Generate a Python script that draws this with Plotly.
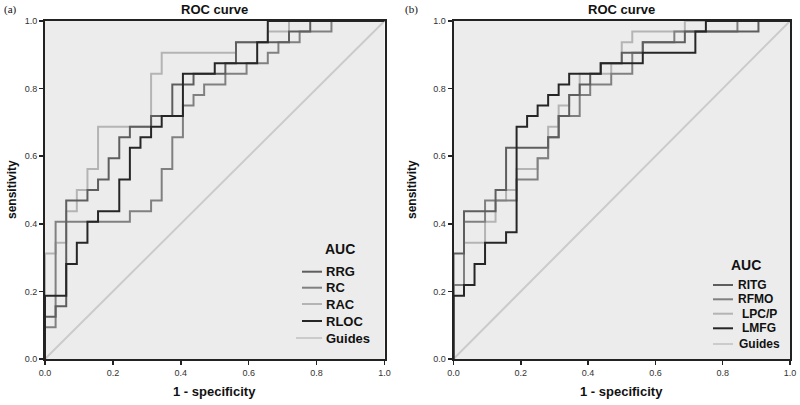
import plotly.graph_objects as go

# ROC step curves, counts out of 32 negatives (false positives) and 32 positives (true positives)
N_NEG = 32
N_POS = 32

# Panel (a)
A_RRG_FP = [0, 0, 1, 2, 4, 5, 6, 7, 8, 10, 12, 14, 17, 18, 23, 25, 32]
A_RRG_TP = [0, 4, 5, 15, 16, 17, 19, 21, 22, 23, 26, 27, 28, 30, 31, 32, 32]
A_RC_FP = [0, 0, 1, 8, 10, 11, 12, 13, 14, 15, 17, 19, 21, 22, 24, 27, 32]
A_RC_TP = [0, 3, 13, 14, 15, 18, 21, 24, 25, 26, 27, 28, 29, 30, 31, 32, 32]
A_RAC_FP = [0, 0, 1, 2, 3, 4, 5, 10, 11, 18, 21, 23, 32]
A_RAC_TP = [0, 10, 11, 14, 16, 18, 22, 27, 29, 30, 31, 32, 32]
A_RLOC_FP = [0, 0, 2, 3, 4, 5, 7, 8, 9, 10, 11, 13, 16, 20, 21, 32]
A_RLOC_TP = [0, 6, 9, 11, 13, 14, 17, 20, 21, 22, 23, 27, 28, 30, 32, 32]

# Panel (b)
B_RITG_FP = [0, 0, 1, 4, 5, 9, 10, 11, 12, 13, 14, 16, 18, 22, 29, 32]
B_RITG_TP = [0, 10, 14, 16, 20, 21, 23, 25, 26, 27, 28, 29, 30, 31, 32, 32]
B_RFMO_FP = [0, 0, 1, 3, 6, 8, 9, 10, 12, 13, 15, 17, 18, 21, 27, 32]
B_RFMO_TP = [0, 7, 13, 15, 17, 19, 21, 23, 25, 26, 27, 29, 30, 31, 32, 32]
B_LPCP_FP = [0, 0, 1, 3, 4, 5, 6, 8, 9, 10, 11, 12, 15, 16, 17, 22, 32]
B_LPCP_TP = [0, 7, 11, 13, 15, 16, 18, 19, 22, 24, 25, 27, 28, 30, 31, 32, 32]
B_LMFG_FP = [0, 0, 1, 2, 3, 5, 6, 7, 8, 9, 10, 11, 14, 18, 23, 24, 32]
B_LMFG_TP = [0, 6, 7, 9, 11, 12, 22, 23, 24, 25, 26, 27, 28, 29, 31, 32, 32]

GUIDE = [0.0, 1.0]
TICKS = [0.0, 0.2, 0.4, 0.6, 0.8, 1.0]

A_LEGEND_NAMES = ["RRG", "RC", "RAC", "RLOC", "Guides"]
B_LEGEND_NAMES = ["RITG", "RFMO", "LPC/P", "LMFG", "Guides"]

C_DARK = "#262626"
C_MD = "#5e5e5e"
C_MED = "#808080"
C_LIGHT = "#b4b4b4"
C_GUIDE = "#cbcbcb"
FONT = "Liberation Sans, Arial, sans-serif"

W, H = 800, 405
ML, MT = 45, 21
MR = W - 790
MB = H - 359
PW, PH = W - ML - MR, H - MT - MB


def px_x(p):
    return (p - ML) / PW


def px_y(p):
    return (H - MB - p) / PH


fig = go.Figure()


def add_curve(fp, tp, name, color, xa, ya):
    fig.add_trace(go.Scatter(
        x=[v / N_NEG for v in fp], y=[v / N_POS for v in tp],
        mode="lines", name=name, line=dict(color=color, width=2, shape="hv"),
        xaxis=xa, yaxis=ya, showlegend=False, hoverinfo="skip"))


def add_guide(xa, ya):
    fig.add_trace(go.Scatter(
        x=GUIDE, y=GUIDE, mode="lines", name="Guides",
        line=dict(color=C_GUIDE, width=2), xaxis=xa, yaxis=ya,
        showlegend=False, hoverinfo="skip"))


add_guide("x", "y")
add_curve(A_RAC_FP, A_RAC_TP, "RAC", C_LIGHT, "x", "y")
add_curve(A_RC_FP, A_RC_TP, "RC", C_MED, "x", "y")
add_curve(A_RRG_FP, A_RRG_TP, "RRG", C_MD, "x", "y")
add_curve(A_RLOC_FP, A_RLOC_TP, "RLOC", C_DARK, "x", "y")

add_guide("x2", "y2")
add_curve(B_LPCP_FP, B_LPCP_TP, "LPC/P", C_LIGHT, "x2", "y2")
add_curve(B_RFMO_FP, B_RFMO_TP, "RFMO", C_MED, "x2", "y2")
add_curve(B_RITG_FP, B_RITG_TP, "RITG", C_MD, "x2", "y2")
add_curve(B_LMFG_FP, B_LMFG_TP, "LMFG", C_DARK, "x2", "y2")

axis_common = dict(
    range=[0, 1], tickvals=TICKS, tickformat=".1f", ticks="outside",
    ticklen=4, tickwidth=1.5, tickcolor="#222", showline=True,
    linecolor="#222", linewidth=2, mirror=True, showgrid=False,
    zeroline=False, fixedrange=True, automargin=False,
    tickfont=dict(size=9, color="#333", family=FONT),
)

fig.update_layout(
    width=W, height=H,
    margin=dict(l=ML, r=MR, t=MT, b=MB),
    paper_bgcolor="white", plot_bgcolor="#ececec",
    showlegend=False,
    xaxis=dict(domain=[0, px_x(384.5)], anchor="y", **axis_common),
    yaxis=dict(domain=[0, 1], anchor="x", **axis_common),
    xaxis2=dict(domain=[px_x(453.5), 1], anchor="y2", **axis_common),
    yaxis2=dict(domain=[0, 1], anchor="x2", **axis_common),
)

ann = []
shapes = []
for cx, tag, tx, sx in [((45 + 384.5) / 2, "(a)", 2, 12), ((453.5 + 790) / 2, "(b)", 403, 412)]:
    ann.append(dict(text="<b>ROC curve</b>", x=px_x(cx), y=px_y(9), xref="paper", yref="paper",
                    showarrow=False, font=dict(size=13, family=FONT, color="#111"),
                    xanchor="center", yanchor="middle"))
    ann.append(dict(text="<b>1 - specificity</b>", x=px_x(cx), y=px_y(391), xref="paper", yref="paper",
                    showarrow=False, font=dict(size=13, family=FONT, color="#111"),
                    xanchor="center", yanchor="middle"))
    ann.append(dict(text="<b>sensitivity</b>", x=px_x(sx), y=px_y(190), xref="paper", yref="paper",
                    showarrow=False, textangle=-90, font=dict(size=12, family=FONT, color="#111"),
                    xanchor="center", yanchor="middle"))
    ann.append(dict(text=tag, x=px_x(tx), y=px_y(9), xref="paper", yref="paper",
                    showarrow=False, font=dict(size=11, family="Liberation Serif, serif", color="#111"),
                    xanchor="left", yanchor="middle"))

# custom legends (AUC key) for both panels
legend_specs = [
    dict(names=A_LEGEND_NAMES, colors=[C_MD, C_MED, C_LIGHT, C_DARK, C_GUIDE],
         title_xy=(340, 249), rows=[271.7, 287.7, 304, 321, 338],
         line_x=(302, 322), text_x=[324, 324, 324, 324, 324], guide_x0=296, size=13),
    dict(names=B_LEGEND_NAMES, colors=[C_MD, C_MED, C_LIGHT, C_DARK, C_GUIDE],
         title_xy=(746, 265), rows=[285, 299.3, 313.7, 328.3, 344],
         line_x=(713, 733), text_x=[735.5, 735.5, 740, 740, 737], guide_x0=713, size=12),
]
for spec in legend_specs:
    ann.append(dict(text="<b>AUC</b>", x=px_x(spec["title_xy"][0]), y=px_y(spec["title_xy"][1]),
                    xref="paper", yref="paper", showarrow=False,
                    font=dict(size=14, family=FONT, color="#111"),
                    xanchor="center", yanchor="middle"))
    for i, (name, color) in enumerate(zip(spec["names"], spec["colors"])):
        yy = px_y(spec["rows"][i])
        x0 = spec["guide_x0"] if name == "Guides" else spec["line_x"][0]
        shapes.append(dict(type="line", xref="paper", yref="paper",
                           x0=px_x(x0), x1=px_x(spec["line_x"][1]), y0=yy, y1=yy,
                           line=dict(color=color, width=2)))
        ann.append(dict(text="<b>" + name + "</b>", x=px_x(spec["text_x"][i]), y=yy,
                        xref="paper", yref="paper", showarrow=False,
                        font=dict(size=spec["size"], family=FONT, color="#111"),
                        xanchor="left", yanchor="middle"))

fig.update_layout(annotations=ann, shapes=shapes)

# remove the browser's default 8px page margin so the figure fills the window exactly
fig.write_html("out.html",
               config={"displayModeBar": False, "staticPlot": True},
               post_script="document.body.style.margin='0';document.body.style.overflow='hidden';")
